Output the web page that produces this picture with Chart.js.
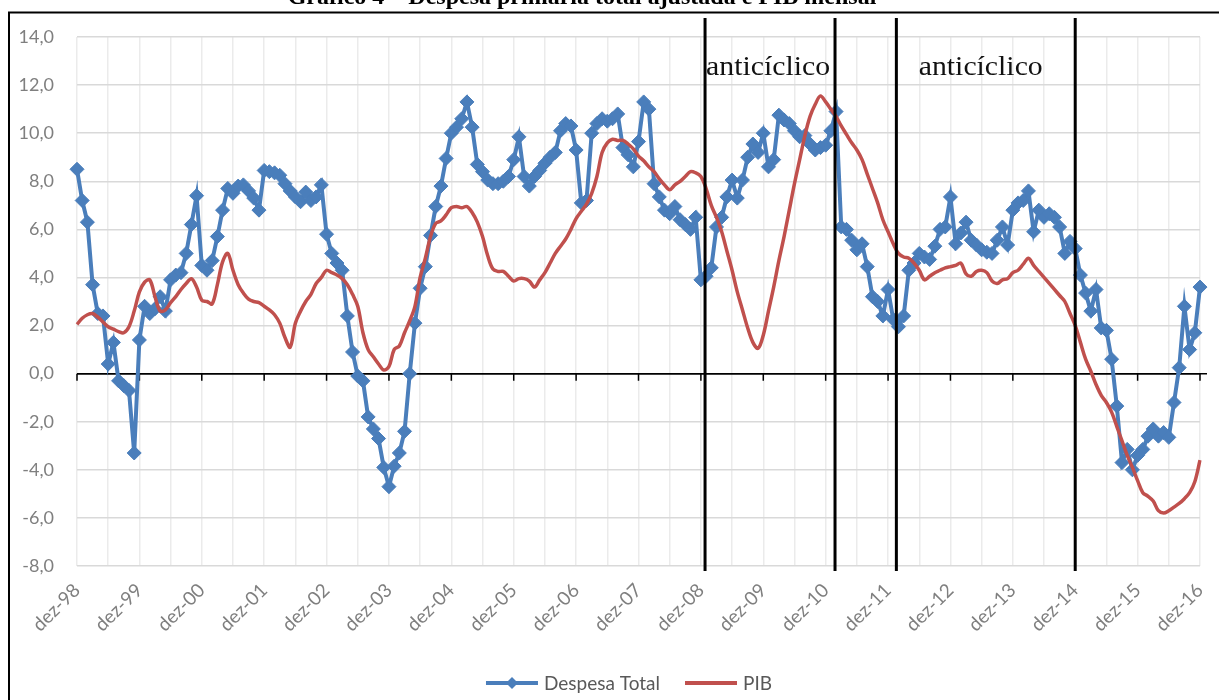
<!DOCTYPE html>
<html lang="pt-BR">
<head>
<meta charset="UTF-8" />
<title>Despesa primária total ajustada e PIB mensal</title>
<script src="https://cdn.jsdelivr.net/npm/chart.js"></script>
<style>
  html, body { margin: 0; padding: 0; background: #fff; }
  #wrap { width: 1219px; height: 700px; }
</style>
</head>
<body>
<div id="wrap"><canvas id="grafico" width="1219" height="700"></canvas></div>

<script>
const tituloGrafico = 'Gráfico 4 – Despesa primária total ajustada e PIB mensal';

// meses dez-98 ... dez-16
const mesesAbrev = ['jan', 'fev', 'mar', 'abr', 'mai', 'jun', 'jul', 'ago', 'set', 'out', 'nov', 'dez'];
const categorias = ['dez-98'];
for (let ano = 1999; ano <= 2016; ano++) {
    for (let m = 0; m < 12; m++) {
        categorias.push(mesesAbrev[m] + '-' + String(ano).slice(2));
    }
}

// Despesa Total (%), uma linha por ano (primeira linha começa em dez-98)
const despesaTotal = [
    8.5, 7.2, 6.3, 3.7, 2.5, 2.4, 0.4, 1.3, -0.3, -0.5, -0.7, -3.3, 1.4,
    2.8, 2.5, 2.7, 3.2, 2.6, 3.9, 4.1, 4.2, 5.0, 6.2, 7.4, 4.5,
    4.3, 4.7, 5.7, 6.8, 7.7, 7.5, 7.8, 7.85, 7.6, 7.3, 6.8, 8.45,
    8.4, 8.35, 8.25, 7.9, 7.6, 7.35, 7.15, 7.55, 7.2, 7.35, 7.85, 5.8,
    5.0, 4.6, 4.3, 2.4, 0.9, -0.1, -0.3, -1.8, -2.3, -2.7, -3.9, -4.7,
    -3.85, -3.3, -2.4, 0.0, 2.1, 3.55, 4.45, 5.75, 6.95, 7.8, 8.95, 10.0,
    10.25, 10.6, 11.3, 10.25, 8.7, 8.4, 8.05, 7.9, 7.9, 8.0, 8.2, 8.9,
    9.85, 8.2, 7.8, 8.2, 8.45, 8.75, 9.0, 9.2, 10.1, 10.4, 10.3, 9.3,
    7.1, 7.2, 10.0, 10.4, 10.6, 10.5, 10.6, 10.8, 9.4, 9.1, 8.6, 9.65,
    11.3, 11.0, 7.9, 7.35, 6.8, 6.65, 6.95, 6.4, 6.2, 6.0, 6.5, 3.9,
    4.05, 4.4, 6.1, 6.5, 7.35, 8.05, 7.3, 8.05, 9.0, 9.55, 9.2, 10.0,
    8.6, 8.9, 10.75, 10.55, 10.4, 10.1, 9.85, 9.9, 9.55, 9.3, 9.4, 9.5,
    10.1, 10.9, 6.1, 6.0, 5.55, 5.15, 5.4, 4.45, 3.2, 3.0, 2.4, 3.5,
    2.25, 1.95, 2.4, 4.3, 4.6, 5.0, 4.85, 4.75, 5.3, 6.0, 6.1, 7.35,
    5.4, 5.85, 6.3, 5.55, 5.35, 5.15, 5.05, 5.0, 5.55, 6.1, 5.35, 6.8,
    7.1, 7.2, 7.6, 5.9, 6.8, 6.5, 6.65, 6.5, 6.1, 5.0, 5.5, 5.2,
    4.1, 3.35, 2.6, 3.5, 1.9, 1.8, 0.6, -1.35, -3.7, -3.15, -4.0, -3.4,
    -3.15, -2.6, -2.3, -2.6, -2.45, -2.65, -1.2, 0.25, 2.8, 1.0, 1.7, 3.6
];

// PIB (%)
const pib = [
    2.05, 2.3, 2.45, 2.5, 2.35, 2.15, 1.95, 1.85, 1.75, 1.7, 1.95, 2.6, 3.4,
    3.8, 3.9, 3.2, 2.6, 2.65, 2.95, 3.2, 3.5, 3.75, 3.95, 3.6, 3.05,
    3.0, 2.9, 3.7, 4.65, 5.0, 4.3, 3.7, 3.35, 3.1, 3.0, 2.95, 2.8,
    2.65, 2.45, 2.1, 1.5, 1.1, 2.1, 2.6, 3.0, 3.3, 3.75, 4.0, 4.3,
    4.2, 4.1, 3.95, 3.7, 3.3, 2.8, 1.7, 1.0, 0.7, 0.4, 0.15, 0.3,
    1.0, 1.15, 1.7, 2.2, 2.8, 4.0, 4.8, 5.7, 6.25, 6.35, 6.6, 6.9,
    6.95, 6.9, 6.95, 6.7, 6.3, 5.7, 4.9, 4.35, 4.25, 4.25, 4.05, 3.85,
    3.95, 3.95, 3.85, 3.6, 3.9, 4.2, 4.6, 5.0, 5.3, 5.6, 6.0, 6.45,
    6.75, 7.05, 7.5, 8.2, 9.2, 9.6, 9.75, 9.7, 9.7, 9.55, 9.35, 9.05,
    8.85, 8.6, 8.4, 8.1, 7.85, 7.65, 7.85, 8.0, 8.2, 8.4, 8.35, 8.2,
    7.7, 7.0, 6.5, 5.9, 5.1, 4.3, 3.4, 2.65, 1.9, 1.3, 1.05, 1.6,
    2.6, 3.6, 4.7, 5.7, 6.8, 7.9, 8.9, 9.9, 10.7, 11.2, 11.55, 11.3,
    11.0, 10.7, 10.3, 9.95, 9.6, 9.3, 8.9, 8.3, 7.7, 7.1, 6.4, 5.9,
    5.4, 5.0, 4.85, 4.8, 4.6, 4.3, 3.9, 4.05, 4.2, 4.3, 4.4, 4.45,
    4.5, 4.6, 4.15, 4.05, 4.25, 4.3, 4.2, 3.85, 3.75, 3.9, 3.95, 4.2,
    4.3, 4.55, 4.8, 4.5, 4.25, 4.0, 3.75, 3.5, 3.25, 3.0, 2.5, 2.0,
    1.3, 0.6, 0.1, -0.45, -0.9, -1.2, -1.6, -2.2, -2.8, -3.4, -3.9, -4.45,
    -4.95, -5.1, -5.3, -5.7, -5.8, -5.7, -5.55, -5.4, -5.2, -4.95, -4.5, -3.6
];

// linhas verticais desenhadas à mão no original (posição em meses a partir de dez-98)
const marcosMes = [120.8, 145.8, 157.6, 192];
const rotulosCiclo = [
    { texto: 'anticíclico', mes: 121.0 },
    { texto: 'anticíclico', mes: 161.9 }
];

const AZUL = '#4a7ebb';
const VERMELHO = '#c0504d';

// fundo branco, moldura e título cortado no topo
const fundoMoldura = {
    id: 'fundoMoldura',
    beforeDraw(chart) {
        const c = chart.ctx;
        c.save();
        c.fillStyle = '#fff';
        c.fillRect(0, 0, chart.width, chart.height);
        c.fillStyle = '#000';
        c.font = 'bold 24px "Liberation Serif"';
        c.textAlign = 'center';
        c.textBaseline = 'alphabetic';
        c.fillText(tituloGrafico, 582, 4);
        c.strokeStyle = '#000';
        c.lineWidth = 2;
        c.beginPath();
        c.moveTo(9, chart.height);
        c.lineTo(9, 12.5);
        c.lineTo(chart.width, 12.5);
        c.stroke();
        c.restore();
    }
};

// eixo no zero com marcas anuais
const eixoZero = {
    id: 'eixoZero',
    beforeDatasetsDraw(chart) {
        const { ctx: c, chartArea: area, scales: { x, y } } = chart;
        const y0 = y.getPixelForValue(0);
        c.save();
        c.strokeStyle = '#000';
        c.lineWidth = 1.5;
        c.beginPath();
        c.moveTo(area.left, y0);
        c.lineTo(area.right + 7, y0);
        for (let i = 0; i < categorias.length; i += 12) {
            const px = x.getPixelForValue(i);
            c.moveTo(px, y0);
            c.lineTo(px, y0 + 7);
        }
        c.stroke();
        c.restore();
    }
};

// linhas pretas verticais e textos "anticíclico"
const marcosCiclo = {
    id: 'marcosCiclo',
    afterDatasetsDraw(chart) {
        const { ctx: c, chartArea: area, scales: { x } } = chart;
        c.save();
        c.strokeStyle = '#000';
        c.lineWidth = 3;
        marcosMes.forEach(m => {
            const px = x.getPixelForValue(m);
            c.beginPath();
            c.moveTo(px, area.top - 19);
            c.lineTo(px, area.bottom + 5);
            c.stroke();
        });
        c.fillStyle = '#111';
        c.font = '27px "Liberation Serif"';
        c.textBaseline = 'alphabetic';
        rotulosCiclo.forEach(r => {
            const px = x.getPixelForValue(r.mes);
            const w = c.measureText(r.texto).width;
            c.save();
            c.translate(px, area.top + 38);
            c.scale(124 / w, 1);
            c.fillText(r.texto, 0, 0);
            c.restore();
        });
        c.restore();
    }
};

// legenda no estilo do Excel (linha com marcador)
const legendaExcel = {
    id: 'legendaExcel',
    afterDraw(chart) {
        const c = chart.ctx;
        const yLeg = 683;
        const amostra = 52, gapTexto = 6, gapItem = 25;
        c.save();
        c.font = '19px Lato';
        c.textBaseline = 'middle';
        const itens = chart.data.datasets.map(ds => ({ ds, w: c.measureText(ds.label).width }));
        let total = 0;
        itens.forEach((it, k) => { total += amostra + gapTexto + it.w + (k ? gapItem : 0); });
        let xl = 629 - total / 2;
        itens.forEach((it, k) => {
            if (k) xl += gapItem;
            c.strokeStyle = it.ds.borderColor;
            c.lineWidth = 4;
            c.beginPath();
            c.moveTo(xl, yLeg);
            c.lineTo(xl + amostra, yLeg);
            c.stroke();
            if (it.ds.pointRadius > 0) {
                const cx = xl + amostra / 2, r = 6;
                c.fillStyle = it.ds.borderColor;
                c.beginPath();
                c.moveTo(cx, yLeg - r);
                c.lineTo(cx + r, yLeg);
                c.lineTo(cx, yLeg + r);
                c.lineTo(cx - r, yLeg);
                c.closePath();
                c.fill();
            }
            c.fillStyle = '#595959';
            c.fillText(it.ds.label, xl + amostra + gapTexto, yLeg + 1);
            xl += amostra + gapTexto + it.w;
        });
        c.restore();
    }
};

new Chart(document.getElementById('grafico'), {
    type: 'line',
    data: {
        labels: categorias,
        datasets: [
            {
                label: 'Despesa Total',
                data: despesaTotal,
                borderColor: AZUL,
                backgroundColor: AZUL,
                borderWidth: 4,
                pointStyle: 'rectRot',
                pointRadius: 7,
                pointBorderWidth: 1,
                pointBackgroundColor: AZUL,
                tension: 0,
                order: 1
            },
            {
                label: 'PIB',
                data: pib,
                borderColor: VERMELHO,
                backgroundColor: VERMELHO,
                borderWidth: 3.5,
                pointRadius: 0,
                tension: 0.35,
                order: 0
            }
        ]
    },
    options: {
        responsive: false,
        animation: false,
        layout: { padding: { left: 17, right: 19, top: 37, bottom: 0 } },
        plugins: {
            legend: { display: false },
            tooltip: { enabled: false }
        },
        scales: {
            x: {
                grid: {
                    color: ctx => (ctx.index % 6 === 0 ? '#ebebeb' : 'rgba(0,0,0,0)'),
                    lineWidth: 1.5,
                    drawTicks: false
                },
                border: { display: false },
                ticks: {
                    autoSkip: false,
                    minRotation: 45,
                    maxRotation: 45,
                    padding: 13,
                    color: '#7f7f7f',
                    font: { family: 'Lato', size: 19 },
                    callback(value) {
                        const r = this.getLabelForValue(value);
                        return r.startsWith('dez') ? r : '';
                    }
                },
                afterFit(scale) {
                    scale.height = 134;
                    scale.paddingLeft = 0;
                    scale.paddingRight = 0;
                }
            },
            y: {
                min: -8,
                max: 14,
                ticks: {
                    stepSize: 2,
                    padding: 23,
                    color: '#7f7f7f',
                    font: { family: 'Lato', size: 18 },
                    callback: v => v.toFixed(1).replace('.', ',')
                },
                grid: {
                    color: ctx => (ctx.tick && ctx.tick.value === 0 ? '#000' : '#d9d9d9'),
                    lineWidth: 1.5,
                    drawTicks: false
                },
                border: { display: false },
                afterFit(scale) { scale.width = 60; }
            }
        }
    },
    plugins: [fundoMoldura, eixoZero, marcosCiclo, legendaExcel]
});
</script>
</body>
</html>
